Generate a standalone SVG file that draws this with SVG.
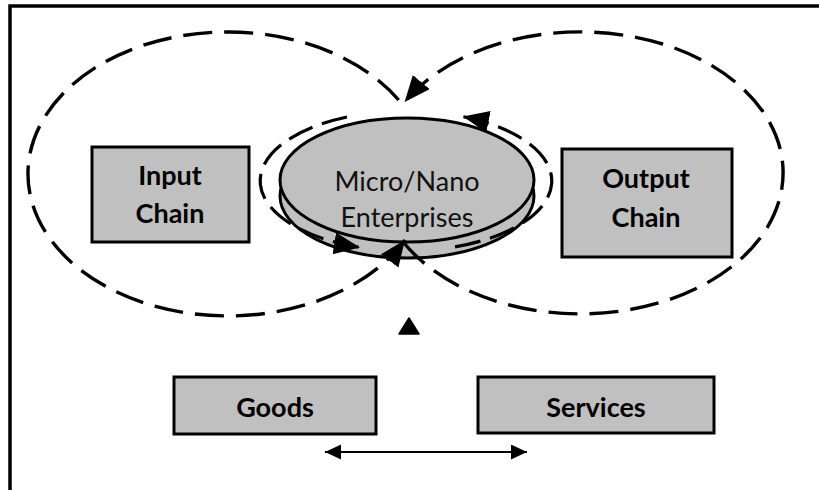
<svg xmlns="http://www.w3.org/2000/svg" width="819" height="490" viewBox="0 0 819 490">
  <style>
    .box { fill: #c0c0c0; stroke: #000; stroke-width: 3; }
    .disc { fill: #c0c0c0; stroke: #000; stroke-width: 3; }
    .loop { fill: none; stroke: #000; stroke-width: 3.4; stroke-dasharray: 29 12; }
    .ring { fill: none; stroke: #000; stroke-width: 3.2; stroke-dasharray: 26 10; }
    .bold { font-family: Lato, "Liberation Sans", sans-serif; font-weight: bold; font-size: 27px; fill: #000; text-anchor: middle; }
    .reg { font-family: Lato, "Liberation Sans", sans-serif; font-size: 27px; fill: #111; text-anchor: middle; }
  </style>
  <defs>
    <marker id="head" markerUnits="userSpaceOnUse" markerWidth="30" markerHeight="24" refX="26" refY="11" orient="auto">
      <path d="M0,0 L26,11 L0,22 Z" fill="#000"/>
    </marker>
    <marker id="small" markerUnits="userSpaceOnUse" markerWidth="18" markerHeight="16" refX="16" refY="7.5" orient="auto-start-reverse">
      <path d="M0,0 L16,7.5 L0,15 Z" fill="#000"/>
    </marker>
  </defs>

  <rect width="819" height="490" fill="#fff"/>
  <!-- page frame -->
  <rect x="10" y="6" width="840" height="520" fill="none" stroke="#000" stroke-width="3.5"/>

  <!-- central disc -->
  <g id="micro-nano">
    <ellipse class="disc" cx="407" cy="196" rx="127" ry="62"/>
    <ellipse class="disc" cx="407" cy="180" rx="127" ry="62"/>
    <text class="reg" x="407" y="191">Micro/Nano</text>
    <text class="reg" x="407" y="227">Enterprises</text>
  </g>

  <g id="input-chain">
    <rect class="box" x="92" y="147" width="157" height="95"/>
    <text class="bold" x="170" y="185">Input</text>
    <text class="bold" x="170" y="223">Chain</text>
  </g>

  <g id="output-chain">
    <rect class="box" x="562" y="149" width="170" height="108"/>
    <text class="bold" x="646" y="188">Output</text>
    <text class="bold" x="646" y="227">Chain</text>
  </g>

  <g id="goods">
    <rect class="box" x="174" y="377" width="202" height="57"/>
    <text class="bold" x="275" y="417">Goods</text>
  </g>

  <g id="services">
    <rect class="box" x="478" y="377" width="236" height="56"/>
    <text class="bold" x="596" y="417">Services</text>
  </g>

  <g id="connectors">
    <!-- input loop, ends pointing into the disc -->
    <path class="loop" d="M398.7,100 A200,142 0 1 0 405,240" marker-end="url(#head)"/>
    <!-- output loop, starts at the disc and returns at the top -->
    <path class="loop" d="M404,243 A203,141 0 1 0 404.6,102" marker-end="url(#head)"/>
    <!-- inner ring around the disc -->
    <path class="ring" d="M347,117 A146,70 0 0 0 360,247.4" marker-end="url(#head)"/>
    <path class="ring" d="M455,246.9 A146,70 0 0 0 463,116.6" marker-end="url(#head)"/>
    <!-- lone upward arrowhead -->
    <polygon points="409,318 399,334 419,334" fill="#000" stroke="#000" stroke-width="1.5" stroke-linejoin="round"/>
    <!-- goods / services exchange -->
    <line x1="325" y1="452" x2="527" y2="452" stroke="#000" stroke-width="2" marker-start="url(#small)" marker-end="url(#small)"/>
  </g>
</svg>
